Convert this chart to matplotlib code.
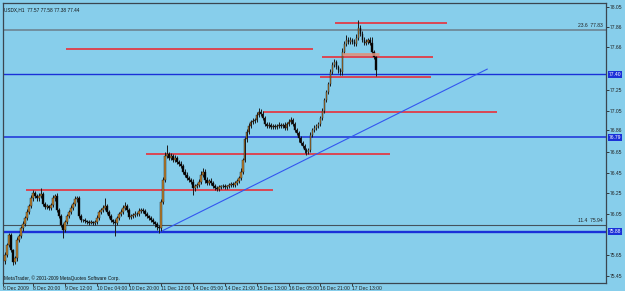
import matplotlib
matplotlib.use("Agg")
import matplotlib.pyplot as plt
from matplotlib.transforms import blended_transform_factory

plt.rcParams['font.family'] = ['Liberation Sans', 'DejaVu Sans']

# ---------------- data ----------------
title_text = "USDX,H1  77.57 77.58 77.38 77.44"
copyright_text = "MetaTrader, \u00a9 2001-2009 MetaQuotes Software Corp."

first_open = 75.60
closes = [
    75.65, 75.75, 75.85, 75.70, 75.59, 75.62, 75.80, 75.84, 75.91, 75.95,
    76.01, 76.07, 76.13, 76.20, 76.25, 76.22, 76.20, 76.22, 76.24, 76.15,
    76.12, 76.13, 76.11, 76.14, 76.20, 76.22, 76.09, 76.03, 75.94, 75.90,
    75.97, 76.03, 76.07, 76.11, 76.15, 76.19, 76.20, 76.03, 75.99, 75.99,
    75.98, 75.97, 75.96, 75.97, 75.96, 75.97, 76.01, 76.07, 76.09, 76.11,
    76.13, 76.07, 76.03, 75.99, 75.97, 75.96, 76.01, 76.05, 76.07, 76.11,
    76.13, 76.09, 76.02, 76.03, 76.04, 76.05, 76.05, 76.08, 76.09, 76.08,
    76.05, 76.03, 76.01, 75.99, 75.97, 75.95, 75.92, 75.91, 76.17, 76.38,
    76.61, 76.63, 76.59, 76.61, 76.57, 76.59, 76.55, 76.53, 76.51, 76.46,
    76.43, 76.40, 76.38, 76.36, 76.30, 76.32, 76.33, 76.36, 76.43, 76.46,
    76.38, 76.35, 76.37, 76.35, 76.32, 76.30, 76.29, 76.31, 76.32, 76.32,
    76.31, 76.32, 76.33, 76.34, 76.33, 76.35, 76.37, 76.40, 76.46, 76.57,
    76.77, 76.84, 76.90, 76.94, 76.95, 76.96, 77.01, 77.04, 77.02, 76.98,
    76.92, 76.90, 76.91, 76.89, 76.90, 76.89, 76.90, 76.91, 76.90, 76.91,
    76.88, 76.92, 76.94, 76.96, 76.92, 76.86, 76.83, 76.78, 76.74, 76.71,
    76.67, 76.65, 76.67, 76.81, 76.86, 76.88, 76.90, 76.92, 76.98, 77.05,
    77.15, 77.23, 77.31, 77.42, 77.49, 77.52, 77.47, 77.44, 77.42, 77.62,
    77.69, 77.73, 77.71, 77.73, 77.71, 77.69, 77.75, 77.85, 77.79, 77.73,
    77.70, 77.71, 77.73, 77.70, 77.62, 77.57, 77.44,
]
# upper / lower shadow lengths in hundredths of a point
wick_up = [
    3, 2, 2, 2, 1, 2, 3, 2, 2, 3,
    2, 3, 2, 3, 3, 2, 2, 3, 6, 2,
    2, 2, 1, 2, 3, 2, 3, 2, 2, 2,
    2, 2, 2, 3, 2, 3, 2, 2, 2, 1,
    2, 1, 2, 2, 1, 2, 3, 2, 2, 3,
    7, 2, 2, 2, 1, 3, 2, 2, 3, 3,
    4, 2, 2, 2, 2, 3, 2, 3, 2, 2,
    2, 2, 1, 2, 2, 1, 2, 2, 2, 3,
    4, 9, 2, 3, 2, 3, 2, 2, 3, 2,
    2, 3, 2, 2, 3, 2, 2, 3, 4, 3,
    2, 3, 2, 3, 2, 2, 2, 2, 1, 2,
    2, 1, 2, 2, 2, 2, 2, 2, 3, 2,
    2, 3, 3, 2, 3, 2, 3, 3, 2, 3,
    2, 2, 3, 2, 2, 2, 2, 3, 2, 2,
    3, 2, 3, 3, 2, 2, 2, 2, 2, 2,
    2, 2, 2, 3, 2, 3, 2, 2, 2, 2,
    2, 2, 2, 3, 3, 3, 2, 2, 2, 3,
    3, 5, 3, 3, 2, 3, 4, 7, 3, 3,
    3, 3, 2, 3, 6, 1, 1,
]
wick_dn = [
    3, 2, 2, 2, 3, 2, 2, 2, 2, 2,
    2, 2, 2, 2, 2, 2, 2, 2, 2, 2,
    2, 2, 2, 2, 2, 2, 2, 2, 2, 8,
    2, 2, 2, 2, 2, 2, 2, 2, 2, 2,
    2, 2, 2, 1, 2, 2, 2, 2, 2, 2,
    2, 2, 2, 2, 2, 12, 2, 2, 2, 2,
    2, 2, 2, 2, 2, 2, 2, 2, 2, 2,
    2, 2, 2, 2, 2, 3, 2, 4, 2, 2,
    2, 2, 2, 2, 2, 2, 2, 2, 2, 2,
    2, 2, 2, 2, 7, 3, 2, 2, 2, 2,
    3, 2, 2, 2, 2, 2, 2, 2, 2, 2,
    2, 2, 2, 2, 2, 2, 2, 2, 2, 2,
    2, 2, 2, 2, 2, 2, 2, 2, 2, 2,
    2, 2, 2, 2, 2, 2, 2, 2, 2, 2,
    2, 2, 2, 2, 2, 2, 2, 3, 2, 2,
    3, 3, 2, 2, 2, 2, 2, 2, 2, 2,
    2, 2, 2, 2, 2, 2, 2, 3, 3, 3,
    2, 2, 2, 2, 2, 2, 2, 2, 2, 2,
    2, 2, 2, 2, 2, 2, 6,
]

# horizontal drawn lines (price, start bar, end bar)
red_levels = [77.90, 77.64, 77.57, 77.37, 77.04, 76.63, 76.28]
red_start = [165.5, 30.5, 159, 158, 129, 70.5, 10.5]
red_end = [221.5, 154.5, 214.5, 213.5, 246.5, 193, 134]
salmon_level = 77.60
salmon_span = [169, 187.5]
blue_levels = [77.40, 76.79, 75.88]
blue_widths = [1.0, 1.1, 1.7]
fibo_levels = [77.83, 75.94]
fibo_labels = ["23.6  77.83", "11.4  75.94"]
trend_x = [77, 241.5]
trend_y = [75.87, 77.45]

ytick_vals = [78.05, 77.86, 77.66, 77.25, 77.05, 76.86, 76.65, 76.45,
              76.25, 76.05, 75.65, 75.45]
xtick_pos = [-1, 14, 30, 46, 62, 78, 94, 110, 126, 142, 158, 174]
xtick_labels = ["8 Dec 2009", "8 Dec 20:00", "9 Dec 12:00", "10 Dec 04:00",
                "10 Dec 20:00", "11 Dec 12:00", "14 Dec 05:00", "14 Dec 21:00",
                "15 Dec 13:00", "16 Dec 05:00", "16 Dec 21:00", "17 Dec 13:00"]

# ---------------- figure ----------------
BG = '#87CEEB'
fig = plt.figure(figsize=(6.25, 2.91), dpi=100, facecolor=BG)
ax = fig.add_axes([3 / 625, 8 / 291, 603 / 625, 280 / 291], facecolor=BG)
ax.set_xlim(-0.5, 301)
ax.set_ylim(75.383, 78.089)

# level lines
ax.axhline(fibo_levels[0], color='#6f8a9a', lw=1.3, zorder=1)
ax.axhline(fibo_levels[1], color='#44525c', lw=0.8, zorder=1)
for lv, w in zip(blue_levels, blue_widths):
    ax.axhline(lv, color='#1a30d8', lw=w, zorder=1)
for lv, s, e in zip(red_levels, red_start, red_end):
    ax.plot([s, e], [lv, lv], color='#e8303a', lw=1.2, zorder=2,
            solid_capstyle='butt')
ax.plot(salmon_span, [salmon_level, salmon_level], color='#e0907a', lw=2.0,
        zorder=5, solid_capstyle='butt', alpha=0.9)
ax.plot(trend_x, trend_y, color='#3356f0', lw=0.8, zorder=2)

# candles
opens = [first_open] + closes[:-1]
for i, (o, c) in enumerate(zip(opens, closes)):
    hi = max(o, c) + wick_up[i] / 100
    lo = min(o, c) - wick_dn[i] / 100
    ax.vlines(i, lo, hi, color='#1a1a1a', lw=0.7, zorder=3)
    bull = c >= o
    bottom = min(o, c)
    height = max(abs(c - o), 0.004)
    ax.bar(i, height, bottom=bottom, width=0.9,
           color='#c0822c' if bull else '#000000',
           edgecolor='#1a1a1a', linewidth=0.3, zorder=4)

# frame
for sp in ax.spines.values():
    sp.set_color('#3a4650')
    sp.set_linewidth(0.9)

# ticks
ax.yaxis.tick_right()
ax.set_yticks(ytick_vals)
ax.set_yticklabels([f"{v:.2f}" for v in ytick_vals])
ax.tick_params(axis='y', direction='out', length=2, width=0.6, pad=1,
               labelsize=3.6, colors='#222222')
ax.set_xticks(xtick_pos)
ax.set_xticklabels(xtick_labels)
ax.tick_params(axis='x', direction='out', length=2, width=0.6, pad=0.5,
               labelsize=3.6, colors='#222222')
for lab in ax.get_xticklabels():
    lab.set_horizontalalignment('left')

# highlighted level labels on the axis
tr = blended_transform_factory(ax.transAxes, ax.transData)
for lv in blue_levels:
    ax.text(1.004, lv, f"{lv:.2f}", transform=tr, ha='left', va='center',
            fontsize=3.6, color='white',
            bbox=dict(boxstyle='square,pad=0.15', fc='#1a30d8', ec='none'),
            clip_on=False, zorder=6)

# fibo labels
for lv, t in zip(fibo_levels, fibo_labels):
    ax.text(0.995, lv + 0.02, t, transform=tr, ha='right', va='bottom',
            fontsize=3.6, color='#222222', zorder=6)

ax.text(0.002, 0.985, title_text, transform=ax.transAxes, ha='left',
        va='top', fontsize=3.4, color='#111111')
ax.text(0.002, 0.008, copyright_text, transform=ax.transAxes, ha='left',
        va='bottom', fontsize=3.4, color='#111111')

fig.savefig('out.png', dpi=100, facecolor=BG)
